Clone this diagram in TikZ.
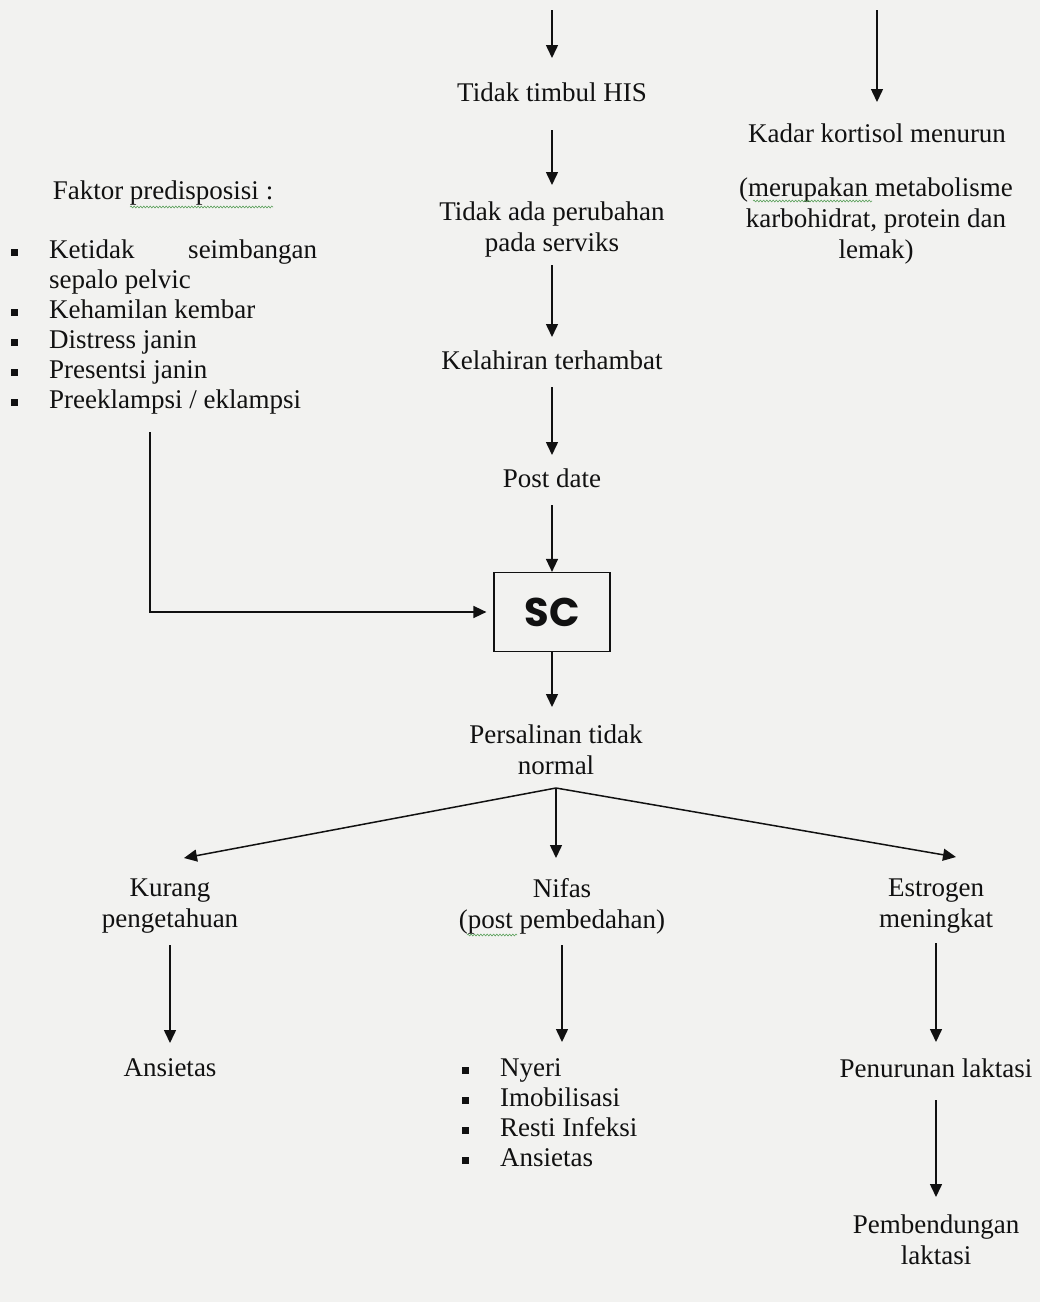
\documentclass[tikz,border=0pt]{standalone}
\usepackage{fontspec}
\setmainfont{Liberation Serif}
\newfontfamily\scfont{Poppins}
\usetikzlibrary{arrows.meta,decorations.pathmorphing}
\definecolor{bg}{HTML}{F2F2F0}
\definecolor{ink}{HTML}{111111}
\definecolor{wavy}{HTML}{5AA05A}
\newcommand\mysq{\rule[2.5pt]{7pt}{7pt}}
\begin{document}
\begin{tikzpicture}[x=1pt,y=-1pt,
  txt/.style={font=\fontsize{27}{31}\selectfont, align=center, inner sep=0pt, text=ink},
  lst/.style={font=\fontsize{27}{30}\selectfont, inner sep=0pt, text=ink, anchor=base west},
  arr/.style={draw=ink, line width=1.5pt, -{Triangle[length=13pt,width=12pt]}},
  wav/.style={draw=wavy, line width=0.6pt, decorate, decoration={snake, amplitude=0.9pt, segment length=3.2pt}}]
\fill[bg] (0,0) rectangle (1040,1302);
\useasboundingbox (0,0) rectangle (1040,1302);

% centre column
\node[txt] (his) at (552,92) {Tidak timbul HIS};
\node[txt] (perub) at (552,230) {Tidak ada perubahan\\pada serviks};
\node[txt] (kel) at (552,360) {Kelahiran terhambat};
\node[txt] (post) at (552,478) {Post date};
\node[draw=ink, line width=1.2pt, minimum width=116pt, minimum height=79pt, inner sep=0pt,
      text=ink, font=\scfont\bfseries\fontsize{40}{44}\selectfont] (sc) at (552,612) {SC};
\node[txt] (pers) at (556,750) {Persalinan tidak\\normal};
\node[txt] (kur) at (170,906) {Kurang\\pengetahuan};
\node[txt] (nif) at (562,906) {Nifas\\(post pembedahan)};
\node[txt] (est) at (936,906) {Estrogen\\meningkat};
\node[txt] (ans) at (170,1068) {Ansietas};
\node[lst] (list2) at (462,1076) {\begin{tabular}[t]{@{}p{38pt}@{}l@{}}
\mysq & Nyeri\\
\mysq & Imobilisasi\\
\mysq & Resti Infeksi\\
\mysq & Ansietas
\end{tabular}};
\node[txt] (pen) at (936,1068) {Penurunan laktasi};
\node[txt] (pemb) at (936,1240) {Pembendungan\\laktasi};

% right column
\node[txt] (kad) at (877,133) {Kadar kortisol menurun};
\node[txt] (merup) at (876,221) {(merupakan metabolisme\\karbohidrat, protein dan\\lemak)};

% left column
\node[txt] (fak) at (163,193) {Faktor predisposisi :};
\node[lst] (list1) at (11,258) {\begin{tabular}[t]{@{}p{38pt}@{}l@{}}
\mysq & \makebox[268pt][s]{Ketidak\hfill seimbangan}\\
 & sepalo pelvic\\
\mysq & Kehamilan kembar\\
\mysq & Distress janin\\
\mysq & Presentsi janin\\
\mysq & Preeklampsi / eklampsi
\end{tabular}};

% connectors
\coordinate (topA) at (552,10);
\coordinate (topB) at (877,10);
\coordinate (lstart) at (150,432);
\draw[arr] (topA) -- ([yshift=34pt]his.center);
\draw[arr] ([yshift=-38pt]his.center) -- ([yshift=45pt]perub.center);
\draw[arr] ([yshift=-35pt]perub.center) -- ([yshift=23pt]kel.center);
\draw[arr] ([yshift=-27pt]kel.center) -- ([yshift=23pt]post.center);
\draw[arr] ([yshift=-27pt]post.center) -- (sc.north);
\draw[arr] (sc.south) -- ([xshift=-4pt,yshift=43pt]pers.center);
\coordinate (apex) at ([yshift=-38pt]pers.center);
\draw[arr] (apex) -- ([xshift=14pt,yshift=48pt]kur.center);
\draw[arr] (apex) -- ([xshift=-6pt,yshift=48pt]nif.center);
\draw[arr] (apex) -- ([xshift=20pt,yshift=49pt]est.center);
\draw[arr] ([yshift=-39pt]kur.center) -- ([yshift=25pt]ans.center);
\draw[arr] ([yshift=-39pt]nif.center) -- ([xshift=100pt,yshift=34pt]list2.base west);
\draw[arr] ([yshift=-37pt]est.center) -- ([yshift=26pt]pen.center);
\draw[arr] ([yshift=-32pt]pen.center) -- ([yshift=43pt]pemb.center);
\draw[arr] (topB) -- ([yshift=31pt]kad.center);
\draw[arr] (lstart) |- ([xshift=-7pt]sc.west);

% spell-check underlines
\draw[wav] (130,207) -- (273,207);
\draw[wav] (753,201) -- (872,201);
\draw[wav] (467,935) -- (517,935);
\end{tikzpicture}
\end{document}
